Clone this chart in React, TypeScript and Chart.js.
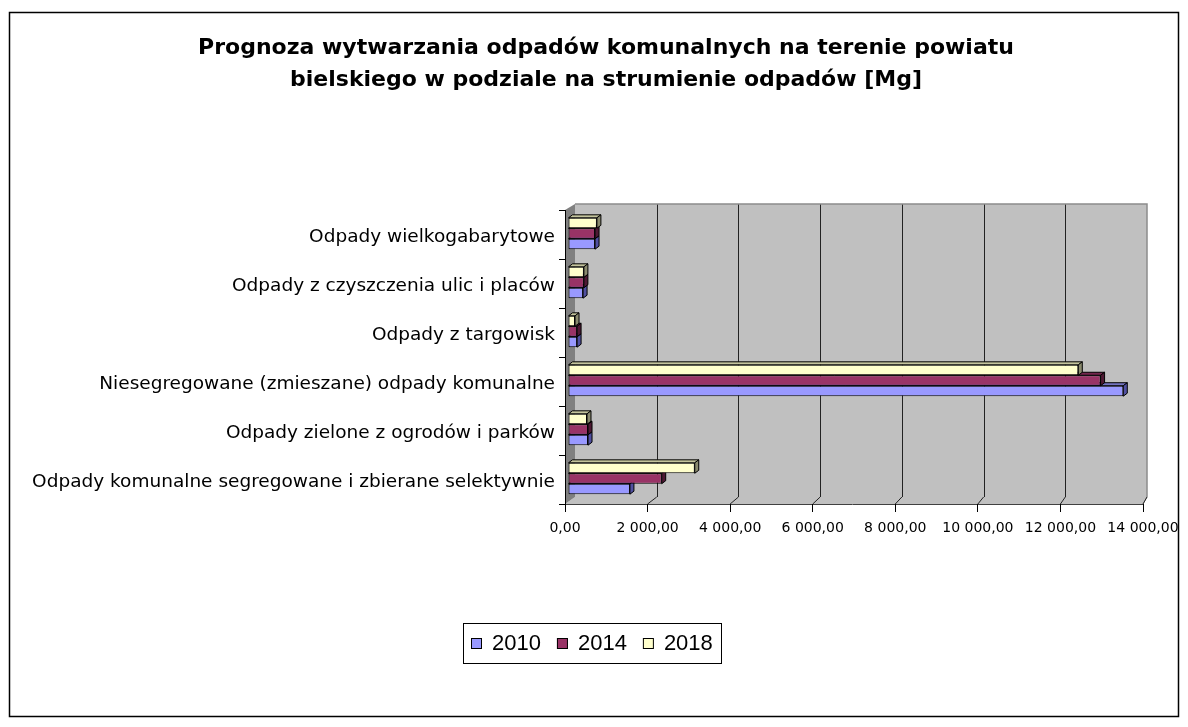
import React, { useEffect, useRef } from 'react';
import { Chart, registerables } from 'chart.js';

Chart.register(...registerables);

// ---------- data ----------
const titleLines = [
  'Prognoza wytwarzania odpadów komunalnych na terenie powiatu',
  'bielskiego w podziale na strumienie odpadów [Mg]',
];

const categories = [
  'Odpady wielkogabarytowe',
  'Odpady z czyszczenia ulic i placów',
  'Odpady z targowisk',
  'Niesegregowane (zmieszane) odpady komunalne',
  'Odpady zielone z ogrodów i parków',
  'Odpady komunalne segregowane i zbierane selektywnie',
];

const years = ['2010', '2014', '2018'];

const values2010 = [655, 365, 220, 13450, 485, 1500];
const values2014 = [655, 385, 220, 12900, 485, 2270];
const values2018 = [700, 385, 170, 12360, 460, 3070];

const xTickValues = [0, 2000, 4000, 6000, 8000, 10000, 12000, 14000];

// ---------- styles ----------
const FILL: Record<string, string> = { '2010': '#9999FF', '2014': '#993366', '2018': '#FFFFCC' };
const TOP: Record<string, string> = { '2010': '#7373BF', '2014': '#73264D', '2018': '#C4C49C' };
const SIDE: Record<string, string> = { '2010': '#5050A0', '2014': '#4D1933', '2018': '#8A8A6E' };

function fmtPl(v: number): string {
  const [intPart, dec] = v.toFixed(2).split('.');
  const withSpaces = intPart.replace(/\B(?=(\d{3})+(?!\d))/g, ' ');
  return withSpaces + ',' + dec;
}

const DX = 4;
const DY = -3;
const AREA_LEFT = 565;

const framePlugin = {
  id: 'excel3dFrame',
  beforeDraw(chart: any) {
    const ctx = chart.ctx;
    const { left, top, right, bottom } = chart.chartArea;
    ctx.save();
    ctx.fillStyle = '#FFFFFF';
    ctx.fillRect(0, 0, chart.width, chart.height);
    // outer border
    ctx.strokeStyle = '#000';
    ctx.lineWidth = 1.5;
    ctx.strokeRect(9.5, 12.5, 1169, 704);

    // title
    ctx.fillStyle = '#000';
    ctx.font = 'bold 22px "DejaVu Sans", sans-serif';
    ctx.textAlign = 'center';
    ctx.textBaseline = 'middle';
    titleLines.forEach((line, i) => {
      ctx.fillText(line, 606, 48 + i * 32);
    });

    const bl = left + 10;
    const bt = top - 6;
    const br = right + 4;
    const bb = bottom - 7;

    // back wall
    ctx.fillStyle = '#C0C0C0';
    ctx.fillRect(bl, bt, br - bl, bb - bt);
    // floor
    ctx.beginPath();
    ctx.moveTo(left, bottom);
    ctx.lineTo(bl, bb);
    ctx.lineTo(br, bb);
    ctx.lineTo(right, bottom);
    ctx.closePath();
    ctx.fillStyle = '#C0C0C0';
    ctx.fill();
    ctx.strokeStyle = '#9A9A9A';
    ctx.lineWidth = 1;
    ctx.beginPath();
    ctx.moveTo(br, bb);
    ctx.lineTo(right, bottom);
    ctx.stroke();
    // side wall
    ctx.beginPath();
    ctx.moveTo(left, top);
    ctx.lineTo(bl, bt);
    ctx.lineTo(bl, bb);
    ctx.lineTo(left, bottom);
    ctx.closePath();
    ctx.fillStyle = '#808080';
    ctx.fill();

    // gridlines on back wall + diagonal on floor
    const xs = chart.scales.x;
    ctx.strokeStyle = '#222';
    ctx.lineWidth = 1;
    xTickValues.forEach((v) => {
      const fx = xs.getPixelForValue(v);
      const bx = bl + ((fx - left) / (right - left)) * (br - bl);
      if (v > 0 && v < xTickValues[xTickValues.length - 1]) {
        ctx.beginPath();
        ctx.moveTo(Math.round(bx) + 0.5, bt);
        ctx.lineTo(Math.round(bx) + 0.5, bb);
        ctx.stroke();
      }
      if (v > 0) {
        ctx.beginPath();
        ctx.moveTo(bx, bb);
        ctx.lineTo(fx, bottom);
        ctx.stroke();
      }
    });
    // wall border
    ctx.strokeStyle = '#8C8C8C';
    ctx.lineWidth = 1.5;
    ctx.beginPath();
    ctx.moveTo(bl, bt);
    ctx.lineTo(br, bt);
    ctx.lineTo(br, bb);
    ctx.stroke();
    // front x-axis line
    ctx.strokeStyle = '#404040';
    ctx.lineWidth = 1;
    ctx.beginPath();
    ctx.moveTo(left - 3, bottom + 0.5);
    ctx.lineTo(right, bottom + 0.5);
    ctx.stroke();
    ctx.restore();
  },
  beforeDatasetsDraw(chart: any) {
    chart.ctx.save();
    chart.ctx.translate(3, -1);
  },
  beforeDatasetDraw(chart: any, args: any) {
    const ctx = chart.ctx;
    const meta = args.meta;
    const label = chart.data.datasets[meta.index].label;
    ctx.save();
    ctx.strokeStyle = '#000';
    ctx.lineWidth = 1;
    meta.data.forEach((el: any) => {
      const x = el.x;
      const base = el.base;
      const t = el.y - el.height / 2;
      const b = el.y + el.height / 2;
      // top face
      ctx.beginPath();
      ctx.moveTo(base, t);
      ctx.lineTo(base + DX, t + DY);
      ctx.lineTo(x + DX, t + DY);
      ctx.lineTo(x, t);
      ctx.closePath();
      ctx.fillStyle = TOP[label];
      ctx.fill();
      ctx.stroke();
      // right face
      ctx.beginPath();
      ctx.moveTo(x, t);
      ctx.lineTo(x + DX, t + DY);
      ctx.lineTo(x + DX, b + DY);
      ctx.lineTo(x, b);
      ctx.closePath();
      ctx.fillStyle = SIDE[label];
      ctx.fill();
      ctx.stroke();
    });
    ctx.restore();
  },
  afterDatasetsDraw(chart: any) {
    chart.ctx.restore();
  },
  afterDraw(chart: any) {
    // legend box
    const ctx = chart.ctx;
    ctx.save();
    const boxX = 463;
    const boxY = 623;
    const boxW = 258;
    const boxH = 40;
    ctx.fillStyle = '#fff';
    ctx.fillRect(boxX, boxY, boxW, boxH);
    ctx.strokeStyle = '#000';
    ctx.lineWidth = 1;
    ctx.strokeRect(boxX + 0.5, boxY + 0.5, boxW, boxH);
    ctx.font = '22px "Liberation Sans", Arial, sans-serif';
    ctx.textBaseline = 'middle';
    ctx.fillStyle = '#000';
    let x = boxX + 8;
    const cy = boxY + boxH / 2 + 1;
    years.forEach((yr) => {
      ctx.fillStyle = FILL[yr];
      ctx.fillRect(x, cy - 6, 11, 11);
      ctx.strokeStyle = '#000';
      ctx.strokeRect(x + 0.5, cy - 5.5, 10, 10);
      ctx.fillStyle = '#000';
      ctx.fillText(yr, x + 21, cy);
      x += 21 + ctx.measureText(yr).width + 16;
    });
    ctx.restore();
  },
};

export default function App() {
  const ref = useRef<HTMLCanvasElement | null>(null);

  useEffect(() => {
    if (!ref.current) return;
    Chart.defaults.font.family = '"DejaVu Sans", sans-serif';
    const seriesByYear: Record<string, number[]> = {
      '2010': values2010,
      '2014': values2014,
      '2018': values2018,
    };
    // top bar in each group is 2018, bottom is 2010
    const drawOrder = [...years].reverse();
    const chart = new Chart(ref.current, {
      type: 'bar',
      data: {
        labels: categories,
        datasets: drawOrder.map((yr) => ({
          label: yr,
          data: seriesByYear[yr],
          backgroundColor: FILL[yr],
          borderColor: '#000',
          borderWidth: 1,
          borderSkipped: false,
          barPercentage: 1,
          categoryPercentage: 0.64,
        })),
      },
      options: {
        indexAxis: 'y',
        animation: false,
        responsive: false,
        devicePixelRatio: 1,
        layout: { padding: { left: 0, right: 45, top: 210, bottom: 0 } },
        plugins: {
          legend: { display: false },
          tooltip: { enabled: false },
          title: { display: false },
        },
        scales: {
          x: {
            type: 'linear',
            min: 0,
            max: 14000,
            afterBuildTicks: (scale: any) => {
              scale.ticks = xTickValues.map((v) => ({ value: v }));
            },
            ticks: {
              callback: (v: any) => fmtPl(Number(v)),
              color: '#000',
              font: { size: 14 },
              padding: 8,
              maxRotation: 0,
              autoSkip: false,
            },
            grid: { drawOnChartArea: false, drawTicks: true, tickLength: 8, color: '#000' },
            border: { display: false },
            afterFit: (scale: any) => {
              scale.height = 223;
            },
          },
          y: {
            type: 'category',
            offset: true,
            ticks: { color: '#000', font: { size: 18.5 }, padding: 4, autoSkip: false, labelOffset: 3 },
            grid: { offset: true, drawOnChartArea: false, drawTicks: true, tickLength: 6, color: '#000' },
            border: { display: true, color: '#000', width: 1 },
            afterFit: (scale: any) => {
              scale.width = AREA_LEFT;
            },
          },
        },
      },
      plugins: [framePlugin],
    });
    return () => chart.destroy();
  }, []);

  return (
    <div style={{ position: 'absolute', left: 0, top: 0, width: 1188, height: 727, background: '#fff' }}>
      <canvas ref={ref} width={1188} height={727} />
    </div>
  );
}
